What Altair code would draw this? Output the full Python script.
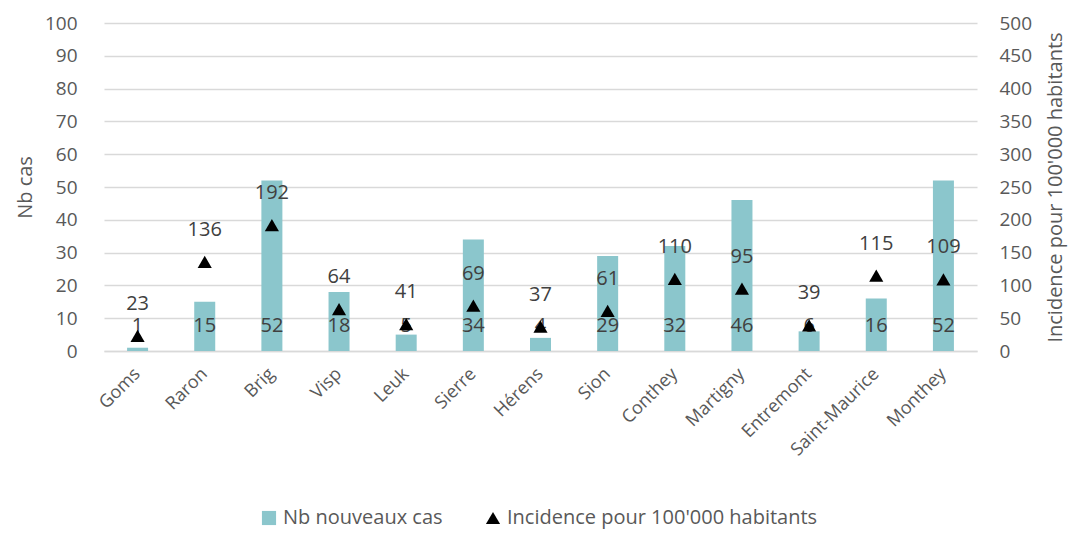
import altair as alt
import pandas as pd

districts = ["Goms", "Raron", "Brig", "Visp", "Leuk", "Sierre", "Hérens", "Sion",
             "Conthey", "Martigny", "Entremont", "Saint-Maurice", "Monthey"]
nb_cas = [1, 15, 52, 18, 5, 34, 4, 29, 32, 46, 6, 16, 52]
incidence = [23, 136, 192, 64, 41, 69, 37, 61, 110, 95, 39, 115, 109]
left_ticks = [0, 10, 20, 30, 40, 50, 60, 70, 80, 90, 100]
right_ticks = [0, 50, 100, 150, 200, 250, 300, 350, 400, 450, 500]

s_bar = "Nb nouveaux cas"
s_pt = "Incidence pour 100'000 habitants"

df = pd.DataFrame({"district": districts, "cas": nb_cas, "inc": incidence,
                   "base": [0] * len(districts), "s_bar": s_bar, "s_pt": s_pt})

FONT = "Open Sans"
GREY = "#595959"
color_scale = alt.Scale(domain=[s_bar, s_pt], range=["#8bc6cc", "#000000"])
shape_scale = alt.Scale(domain=[s_bar, s_pt], range=["square", "triangle-up"])

x = alt.X("district:N", sort=districts, title=None,
          scale=alt.Scale(paddingInner=0, paddingOuter=0),
          axis=alt.Axis(labelAngle=-45, labelAlign="right", labelBaseline="middle",
                        labelFontSize=18, ticks=False, domainColor="#d9d9d9",
                        domainWidth=1.5, labelPadding=20, grid=False))
x_plain = alt.X("district:N", sort=districts)

left_axis = alt.Axis(values=left_ticks, title="Nb cas", labelOverlap=False,
                     gridColor="#d9d9d9", gridWidth=1.5, titlePadding=9,
                     labelPadding=27)
right_axis = alt.Axis(values=right_ticks, orient="right", labelOverlap=False,
                      title="Incidence pour 100'000 habitants", titleAngle=270,
                      titleBaseline="top", grid=False, titlePadding=14,
                      labelPadding=22)
left_scale = alt.Scale(domain=[0, 100], nice=False)
right_scale = alt.Scale(domain=[0, 500], nice=False)

base = alt.Chart(df)

bars = base.mark_bar(size=21).encode(
    x=x,
    y=alt.Y("cas:Q", scale=left_scale, axis=left_axis),
    color=alt.Color("s_bar:N", scale=color_scale, title=None),
)
bar_text = base.mark_text(font=FONT, fontSize=20, color="#404040", dy=-25,
                          baseline="middle").encode(
    x=x_plain,
    y=alt.Y("base:Q", scale=left_scale, axis=None),
    text="cas:Q",
)

points = base.mark_point(filled=True, size=200, opacity=1).encode(
    x=x_plain,
    y=alt.Y("inc:Q", scale=right_scale, axis=right_axis),
    color=alt.Color("s_pt:N", scale=color_scale, title=None),
    shape=alt.Shape("s_pt:N", scale=shape_scale, title=None),
)
pt_text = base.mark_text(font=FONT, fontSize=20, color="#404040", dy=-32,
                         baseline="middle").encode(
    x=x_plain,
    y=alt.Y("inc:Q", scale=right_scale, axis=None),
    text="inc:Q",
)

chart = alt.layer(bars, bar_text, points, pt_text).resolve_scale(
    y="independent"
).properties(
    width=873, height=328,
    autosize=alt.AutoSizeParams(type="none"),
    padding={"left": 96, "top": 15, "right": 91, "bottom": 184},
).configure_view(stroke=None).configure_axis(
    labelFont=FONT, labelFontSize=19, labelColor=GREY, titleFont=FONT,
    titleFontSize=20, titleFontWeight="normal", titleColor=GREY, ticks=False,
    domain=False,
).configure_axisX(
    domain=True, labelFontSize=18,
).configure_legend(
    orient="none", legendX=155, legendY=485, direction="horizontal",
    labelFont=FONT, labelFontSize=20, labelColor=GREY, symbolSize=200,
    labelLimit=500, columnPadding=40, labelOffset=4,
    symbolStrokeWidth=0, symbolOpacity=1,
)

chart.save("out.html", embed_options={"renderer": "svg", "actions": False})
